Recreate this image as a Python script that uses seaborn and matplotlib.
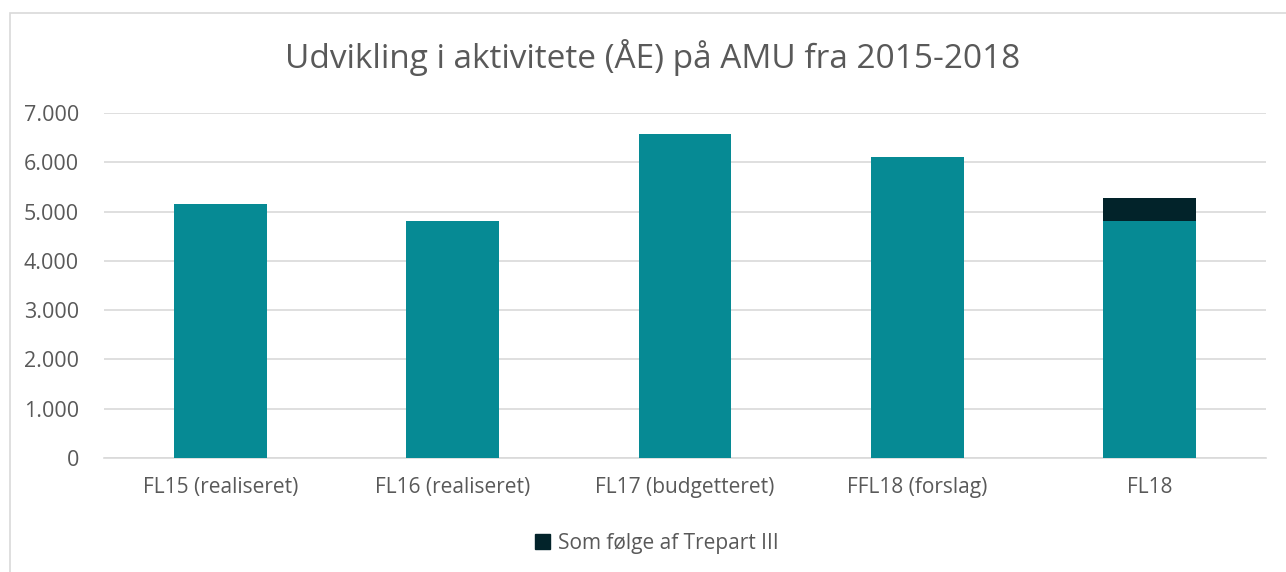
import matplotlib
matplotlib.use("Agg")
import matplotlib.pyplot as plt
import seaborn as sns
import pandas as pd
from matplotlib.patches import Rectangle, Patch

categories = ["FL15 (realiseret)", "FL16 (realiseret)", "FL17 (budgetteret)", "FFL18 (forslag)", "FL18"]
base_values = [5145, 4810, 6575, 6110, 4810]
trepart_values = [0, 0, 0, 0, 465]
yticks = [0, 1000, 2000, 3000, 4000, 5000, 6000, 7000]
ytick_labels = ["0", "1.000", "2.000", "3.000", "4.000", "5.000", "6.000", "7.000"]
title = "Udvikling i aktivitete (ÅE) på AMU fra 2015-2018"
legend_label = "Som følge af Trepart III"

teal = "#068A94"
dark = "#02232A"
text_col = "#595959"
grid_col = "#D9D9D9"

sns.set_theme(style="white")
plt.rcParams['font.family'] = ['Open Sans', 'DejaVu Sans']

df = pd.DataFrame({"cat": categories, "base": base_values,
                   "total": [b + t for b, t in zip(base_values, trepart_values)]})

W, H = 1286, 572
fig = plt.figure(figsize=(W / 100, H / 100), dpi=100)
fig.patches.append(Rectangle((10 / W, -0.05), 1.1, 1 - 13 / H + 0.05, transform=fig.transFigure,
                             fill=False, edgecolor="#D9D9D9", linewidth=1.2, zorder=0))
ax = fig.add_axes([104 / W, 1 - 458 / H, (1266 - 104) / W, (458 - 113) / H])

sns.barplot(data=df, x="cat", y="total", color=dark, width=0.4, saturation=1, ax=ax,
            zorder=3, linewidth=0)
sns.barplot(data=df, x="cat", y="base", color=teal, width=0.4, saturation=1, ax=ax,
            zorder=4, linewidth=0)

ax.set_ylim(0, 7000)
ax.set_xlim(-0.5, len(categories) - 0.5)
ax.set_yticks(yticks)
ax.set_yticklabels(ytick_labels)
ax.yaxis.grid(True, color=grid_col, linewidth=1.2, zorder=0)
ax.set_axisbelow(True)
for s in ["top", "right", "left"]:
    ax.spines[s].set_visible(False)
ax.spines["bottom"].set_color(grid_col)
ax.spines["bottom"].set_linewidth(1.2)
ax.tick_params(axis="y", length=0, pad=18, labelsize=15.5, labelcolor=text_col)
ax.tick_params(axis="x", length=0, pad=14, labelsize=15, labelcolor=text_col)
ax.set_xlabel("")
ax.set_ylabel("")

fig.text(653 / W, 1 - 58 / H, title, ha="center", va="center", fontsize=24, color=text_col)

handle = Patch(facecolor=dark, edgecolor=dark)
fig.legend([handle], [legend_label], loc="center", bbox_to_anchor=(657 / W, 1 - 543 / H),
           frameon=False, fontsize=15, labelcolor=text_col, handlelength=0.7, handleheight=0.7,
           handletextpad=0.4)

fig.savefig("out.png", dpi=100)
